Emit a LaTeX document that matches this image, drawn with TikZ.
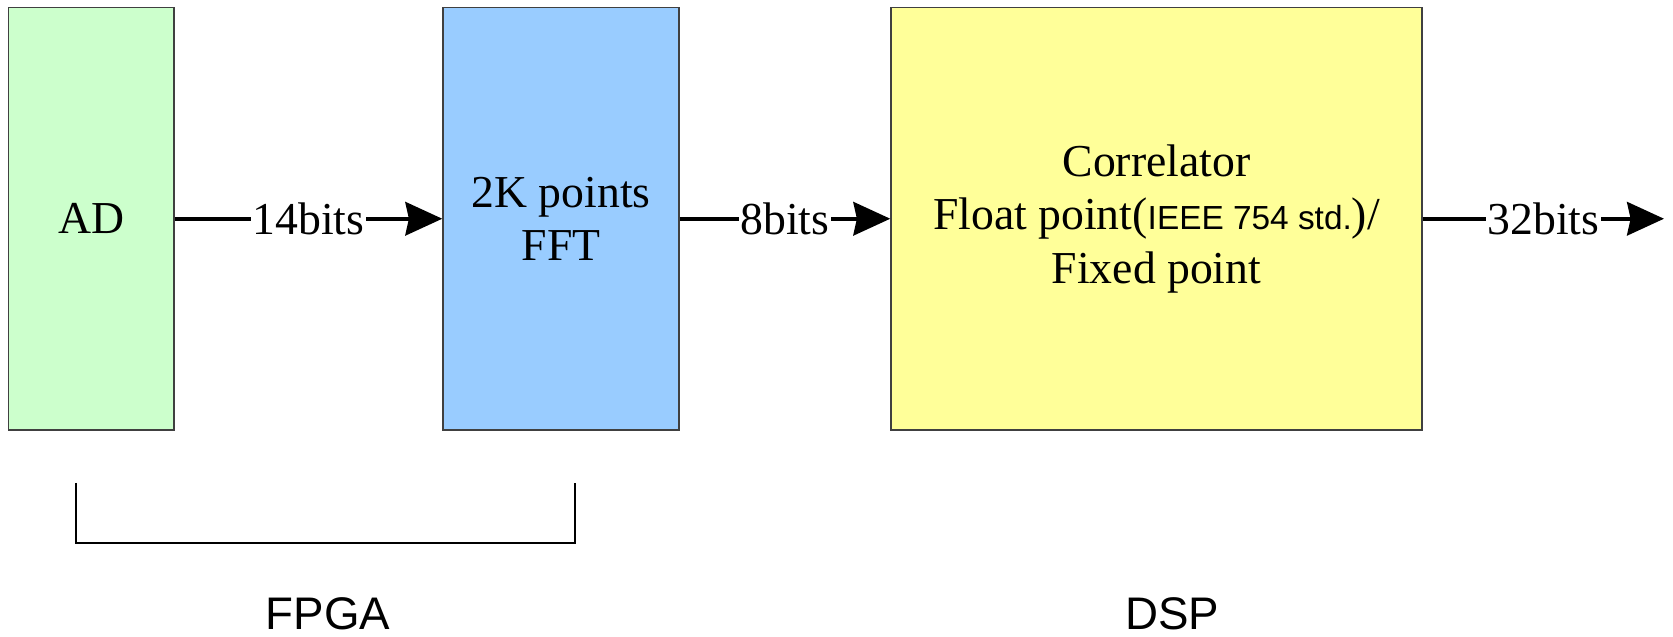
\documentclass[tikz,border=0pt]{standalone}
\usepackage{fontspec}
\setmainfont{Liberation Serif}
\setsansfont{Liberation Sans}
\usepackage{tikz}
\usetikzlibrary{arrows.meta,positioning}
\definecolor{adgreen}{RGB}{204,255,204}
\definecolor{fftblue}{RGB}{153,204,255}
\definecolor{coryellow}{RGB}{255,255,153}
\definecolor{edgegray}{RGB}{64,64,64}
\tikzset{
  pbox/.style={draw=edgegray, line width=0.8pt, fill=#1, align=center,
               minimum height=8.45cm, inner sep=2pt,
               font=\fontsize{26}{30.4}\selectfont},
  bitlbl/.style={fill=white, inner sep=1pt, font=\fontsize{26}{30.4}\selectfont},
  bus/.style={line width=2.3pt, -{Stealth[length=21pt, width=19pt, inset=2pt]}},
  chip/.style={font=\sffamily\fontsize{26}{30}\selectfont, anchor=base, inner sep=0pt},
}

\begin{document}
\begin{tikzpicture}
\useasboundingbox (0,0) rectangle (33.46,12.74);
% Blocks
\node[pbox=adgreen, minimum width=3.31cm] (ad) at (1.825, 8.365) {AD};
\node[pbox=fftblue, minimum width=4.72cm] (fft) at (11.22, 8.365) {2K points\\FFT};
\node[pbox=coryellow, minimum width=10.62cm] (corr) at (23.13, 8.365) {%
Correlator\\
Float point({\sffamily\fontsize{19}{22}\selectfont IEEE 754 std.})/\\
Fixed point};
\coordinate (out) at (33.28, 8.365);
% Data paths
\draw[bus] (ad.east) -- (fft.west) node[bitlbl, midway] {14bits};
\draw[bus] (fft.east) -- (corr.west) node[bitlbl, midway] {8bits};
\draw[bus] (corr.east) -- (out) node[bitlbl, midway] {32bits};
% FPGA bracket
\draw[line width=1.2pt] (1.52, 3.08) -- (1.52, 1.88) -- (11.50, 1.88) -- (11.50, 3.08);
\node[chip] (fpga) at (6.56, 0.14) {FPGA};
\node[chip] (dsp) at (23.44, 0.14) {DSP};
\end{tikzpicture}
\end{document}
